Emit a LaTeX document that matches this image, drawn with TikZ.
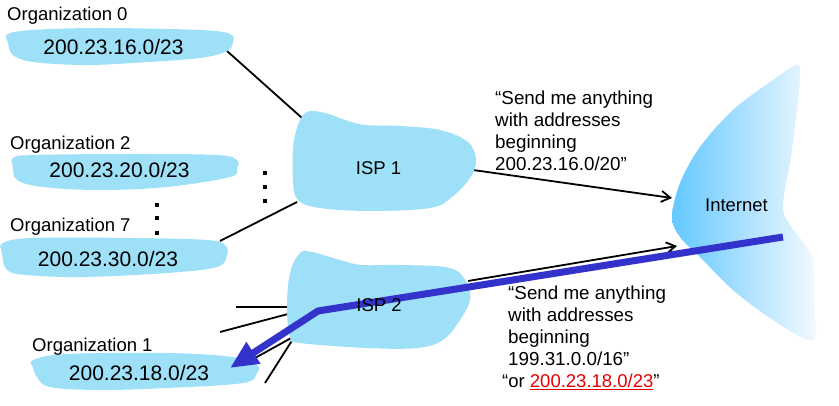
\documentclass[tikz,border=0pt]{standalone}
\usepackage{fontspec}
\setmainfont{Liberation Sans}
\usetikzlibrary{arrows.meta}
\definecolor{blob}{RGB}{158,224,248}
\definecolor{netblue}{RGB}{100,200,255}
\definecolor{netwhite}{RGB}{245,250,255}
\definecolor{barblue}{RGB}{51,51,204}
\definecolor{addrred}{RGB}{228,0,0}
\begin{document}
\begin{tikzpicture}[x=1pt,y=-1pt,
  blobfill/.style={fill=blob, draw=none},
  lbl/.style={font=\fontsize{18.5}{22}\selectfont, inner sep=0pt, anchor=base west},
  isplbl/.style={font=\fontsize{18.5}{22}\selectfont, inner sep=0pt, anchor=base},
  addr/.style={font=\fontsize{21}{25}\selectfont, inner sep=0pt, anchor=base},
  msg/.style={font=\fontsize{18.8}{22.2}\selectfont, inner sep=0pt, anchor=base west, align=left},
  link/.style={draw=black, line width=1.8pt},
  adv/.style={link, -{Straight Barb[length=9pt,width=11pt]}},
  dotsq/.style={fill=black, draw=none},
  route/.style={draw=barblue, line width=7pt, line join=miter, -{Triangle[length=28pt,width=24pt]}}
]
\useasboundingbox (0,0) rectangle (839,406);

% Internet cloud
\shade[left color=netblue, right color=netwhite, shading angle=90]
  plot[smooth cycle, tension=0.55] coordinates {
    (797,65) (773,80) (733,110) (700,147) (680,183) (672,217) (680,237)
    (700,257) (733,290) (773,320) (813,340) (814,300) (812,257) (790,225)
    (783,205) (792,150) (800,80)};

% coordinates for connectors
\coordinate (o0e) at (227,51);
\coordinate (i1a) at (302,118);
\coordinate (o7e) at (220,241);
\coordinate (i1b) at (297,202);
\coordinate (i1r) at (473,170);
\coordinate (netA) at (672,198);
\coordinate (i2r) at (468,281);
\coordinate (netB) at (677,246);
\coordinate (s1a) at (236,307);
\coordinate (s1b) at (288,307);
\coordinate (s2a) at (220,332);
\coordinate (s2b) at (288,314);
\coordinate (s3a) at (255,358);
\coordinate (s3b) at (293,337);
\coordinate (s4a) at (265,383);
\coordinate (s4b) at (293,339);

\draw[link] (o0e) -- (i1a);
\draw[link] (o7e) -- (i1b);
\draw[adv] (i1r) -- (netA);
\draw[adv] (i2r) -- (netB);
\draw[link] (s1a) -- (s1b);
\draw[link] (s2a) -- (s2b);
\draw[link] (s3a) -- (s3b);
\draw[link] (s4a) -- (s4b);

% Organization blobs
\fill[blobfill] plot[smooth cycle, tension=0.6] coordinates {
  (8,34) (33,30) (100,28) (200,30) (230,34) (233,42) (227,51) (200,58)
  (133,63) (83,65) (33,62) (13,55) (8,43)};
\fill[blobfill] plot[smooth cycle, tension=0.6] coordinates {
  (13,158) (33,155) (133,154) (217,155) (237,160) (237,168) (230,177)
  (167,187) (100,190) (43,187) (17,180) (13,167)};
\fill[blobfill] plot[smooth cycle, tension=0.6] coordinates {
  (3,243) (33,238) (133,238) (207,240) (225,245) (227,255) (217,267)
  (167,273) (83,277) (27,275) (7,270) (2,253)};
\fill[blobfill] plot[smooth cycle, tension=0.6] coordinates {
  (33,360) (67,354) (167,353) (233,357) (257,365) (257,373) (243,383)
  (167,388) (100,390) (50,387) (37,377) (33,367)};

% ISP blobs
\fill[blobfill] plot[smooth cycle, tension=0.6] coordinates {
  (305,113) (325,113) (345,120) (365,125) (400,126) (440,130) (468,142)
  (476,160) (470,178) (452,197) (430,208) (370,211) (320,208) (298,200)
  (293,180) (294,140)};
\fill[blobfill] plot[smooth cycle, tension=0.6] coordinates {
  (300,253) (312,252) (340,260) (362,265) (400,265) (450,268) (467,283)
  (470,300) (460,320) (443,340) (417,348) (367,348) (300,343) (290,337)
  (287,307) (290,273)};

% vertical dots
\fill[dotsq] (263,171) rectangle (267,175);
\fill[dotsq] (263,185) rectangle (267,189);
\fill[dotsq] (263,199) rectangle (267,203);
\fill[dotsq] (155,203) rectangle (159,207);
\fill[dotsq] (155,216) rectangle (159,220);
\fill[dotsq] (155,231) rectangle (159,235);

% route bar
\coordinate (r0) at (783,237);
\coordinate (r1) at (318,311);
\coordinate (r2) at (230,368);
\draw[route] (r0) -- (r1) -- (r2);

% texts
\node[lbl] (l0) at (7,21) {Organization 0};
\node[addr] (a0) at (113.5,55) {200.23.16.0/23};
\node[lbl] (l2) at (10,150) {Organization 2};
\node[addr] (a2) at (119.5,178) {200.23.20.0/23};
\node[lbl] (l7) at (10,232) {Organization 7};
\node[addr] (a7) at (108,267) {200.23.30.0/23};
\node[lbl] (l1) at (32,352) {Organization 1};
\node[addr] (a1) at (139,381) {200.23.18.0/23};

\node[isplbl] (isp1) at (378.5,175) {ISP 1};
\node[isplbl] (isp2) at (379,312) {ISP 2};
\node[isplbl] (net) at (736.5,212) {Internet};

\node[msg] (m1) at (495,171) {“Send me anything\\with addresses\\beginning\\200.23.16.0/20”};
\node[msg] (m2) at (508,366) {“Send me anything\\with addresses\\beginning\\199.31.0.0/16”};
\node[lbl] (m3) at (502,388) {“or {\color{addrred}\underline{200.23.18.0/23}}”};
\end{tikzpicture}
\end{document}
